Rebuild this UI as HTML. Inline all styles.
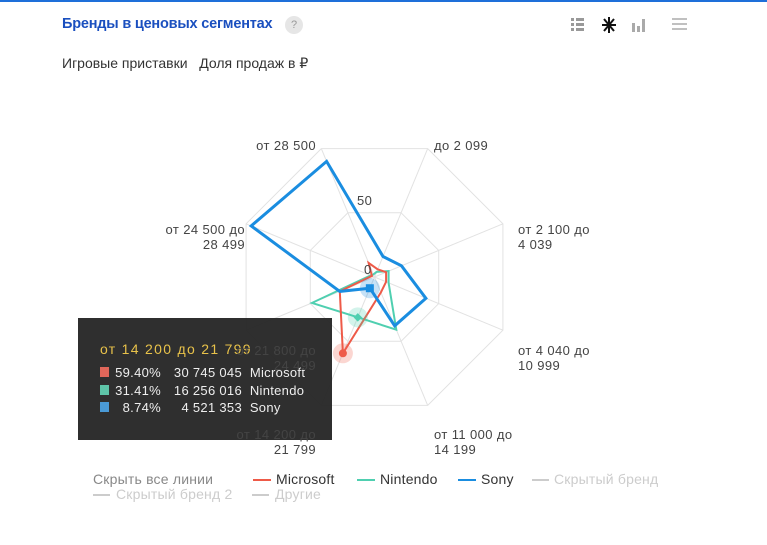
<!DOCTYPE html>
<html><head><meta charset="utf-8"><style>
body{margin:0;width:767px;height:545px;background:#fff;position:relative;overflow:hidden;font-family:"Liberation Sans","DejaVu Sans",sans-serif;}
.a{position:absolute;white-space:nowrap}
.lab{font-size:13px;color:#444;line-height:15px;letter-spacing:0.4px}
.r{text-align:right}
.leg{font-size:14px;line-height:15px;letter-spacing:0.2px}
.ln{position:absolute;height:2px}
</style></head><body>
<div class="a" style="left:0;top:0;width:767px;height:2px;background:#1e6fd9"></div>
<div class="a" style="left:62px;top:16px;font-size:14.5px;font-weight:bold;color:#1a4fbf;letter-spacing:-0.2px">Бренды в ценовых сегментах</div>
<div class="a" style="left:285px;top:16px;width:18px;height:18px;border-radius:9px;background:#e6e6e6;color:#999;font-size:11px;text-align:center;line-height:18px">?</div>
<svg class="a" style="left:565px;top:14px" width="130" height="22">
 <g fill="#999"><rect x="6" y="4" width="3" height="3"/><rect x="11" y="4" width="8" height="3"/><rect x="6" y="9" width="3" height="3"/><rect x="11" y="9" width="8" height="3"/><rect x="6" y="14" width="3" height="3"/><rect x="11" y="14" width="8" height="3"/></g>
 <g stroke="#111" stroke-width="2"><line x1="44" y1="3" x2="44" y2="19"/><line x1="37" y1="11" x2="51" y2="11"/><line x1="39" y1="5" x2="49" y2="17"/><line x1="49" y1="5" x2="39" y2="17"/></g>
 <g fill="#aaa"><rect x="67" y="9" width="3" height="9"/><rect x="72" y="12" width="3" height="6"/><rect x="77" y="5" width="3" height="13"/></g>
 <g stroke="#aaa" stroke-width="1.5"><line x1="107" y1="5" x2="122" y2="5"/><line x1="107" y1="10" x2="122" y2="10"/><line x1="107" y1="15" x2="122" y2="15"/></g>
</svg>
<div class="a" style="left:62px;top:55px;font-size:14px;color:#333">Игровые приставки&nbsp;&nbsp;&nbsp;Доля продаж в ₽</div>

<svg id="ch" class="a" style="left:0;top:0" width="767" height="545"></svg>

<div class="a" style="left:78px;top:318px;width:254px;height:122px;background:rgba(40,40,40,0.97)">
 <div class="a" style="left:22px;top:23px;font-size:14px;color:#e8c24a;letter-spacing:1.3px">от 14 200 до 21 799</div>
 <div class="a" style="left:22px;top:46px;font-size:13px;color:#eee;line-height:17.5px;letter-spacing:0.3px">
  <div><span style="display:inline-block;width:9px;height:10px;background:#e0675a;margin-right:4px"></span><span style="display:inline-block;width:48px;text-align:right">59.40%</span><span style="display:inline-block;width:81px;text-align:right">30 745 045</span>&nbsp;&nbsp;Microsoft</div>
  <div><span style="display:inline-block;width:9px;height:10px;background:#5ec4a8;margin-right:4px"></span><span style="display:inline-block;width:48px;text-align:right">31.41%</span><span style="display:inline-block;width:81px;text-align:right">16 256 016</span>&nbsp;&nbsp;Nintendo</div>
  <div><span style="display:inline-block;width:9px;height:10px;background:#4a9ad6;margin-right:4px"></span><span style="display:inline-block;width:48px;text-align:right">8.74%</span><span style="display:inline-block;width:81px;text-align:right">4 521 353</span>&nbsp;&nbsp;Sony</div>
 </div>
</div>

<div class="a lab r" style="right:451px;top:138px">от 28 500</div>
<div class="a lab" style="left:434px;top:138px">до 2 099</div>
<div class="a lab" style="left:518px;top:222px">от 2 100 до<br>4 039</div>
<div class="a lab" style="left:518px;top:343px">от 4 040 до<br>10 999</div>
<div class="a lab" style="left:434px;top:427px">от 11 000 до<br>14 199</div>
<div class="a lab r" style="right:451px;top:427px">от 14 200 до<br>21 799</div>
<div class="a lab r" style="right:451px;top:343px">от 21 800 до<br>24 499</div>
<div class="a lab r" style="right:522px;top:222px">от 24 500 до<br>28 499</div>
<div class="a lab" style="left:357px;top:193px">50</div>
<div class="a lab" style="left:364px;top:262px">0</div>

<div class="a leg" style="left:93px;top:472px;color:#888">Скрыть все линии</div>
<div class="ln" style="left:253px;top:479px;width:18px;background:#ee5a48"></div><div class="a leg" style="left:276px;top:472px;color:#333">Microsoft</div>
<div class="ln" style="left:357px;top:479px;width:18px;background:#4fcfb0"></div><div class="a leg" style="left:380px;top:472px;color:#333">Nintendo</div>
<div class="ln" style="left:458px;top:479px;width:18px;background:#1a8de0"></div><div class="a leg" style="left:481px;top:472px;color:#333">Sony</div>
<div class="ln" style="left:532px;top:479px;width:17px;background:#ccc"></div><div class="a leg" style="left:554px;top:472px;color:#ccc">Скрытый бренд</div>
<div class="ln" style="left:93px;top:494px;width:17px;background:#ccc"></div><div class="a leg" style="left:116px;top:487px;color:#ccc">Скрытый бренд 2</div>
<div class="ln" style="left:252px;top:494px;width:17px;background:#ccc"></div><div class="a leg" style="left:275px;top:487px;color:#ccc">Другие</div>

<script>
var cx=374.5,cy=277,R=139,ns="http://www.w3.org/2000/svg",s=document.getElementById('ch');
function pt(i,v){var t=(22.5+45*i)*Math.PI/180,r=R*v/100;return [cx+r*Math.sin(t),cy-r*Math.cos(t)];}
function el(n,a){var e=document.createElementNS(ns,n);for(var k in a)e.setAttribute(k,a[k]);s.appendChild(e);return e;}
function poly(vals,col,w){var p=[];for(var i=0;i<8;i++){var q=pt(i,vals[i]);p.push(q[0].toFixed(1)+','+q[1].toFixed(1));}el('polygon',{points:p.join(' '),fill:'none',stroke:col,'stroke-width':w,'stroke-linejoin':'miter'});}
poly([50,50,50,50,50,50,50,50],'#e2e2e2',1);poly([100,100,100,100,100,100,100,100],'#e2e2e2',1);
for(var i=0;i<8;i++){var q=pt(i,100);el('line',{x1:cx,y1:cy,x2:q[0],y2:q[1],stroke:'#e2e2e2','stroke-width':1});}
var N=[4,11,11,41,31.41,48.7,3,2], M=[6,9,9,12,59.4,27,2,11], S=[16,21,40,38,8.74,27,96,90];
poly(N,'#4fcfb0',2);poly(M,'#ee5a48',2);poly(S,'#1a8de0',3);
var a=pt(4,59.4),b=pt(4,31.41),c=pt(4,8.74);
el('circle',{cx:a[0],cy:a[1],r:10,fill:'rgba(238,90,72,0.25)'});el('circle',{cx:a[0],cy:a[1],r:4,fill:'#ee5a48'});
el('circle',{cx:b[0],cy:b[1],r:10,fill:'rgba(79,207,176,0.25)'});el('rect',{x:b[0]-3,y:b[1]-3,width:6,height:6,fill:'#4fcfb0',transform:'rotate(45 '+b[0]+' '+b[1]+')'});
el('circle',{cx:c[0],cy:c[1],r:10,fill:'rgba(26,141,224,0.25)'});el('rect',{x:c[0]-4,y:c[1]-4,width:8,height:8,fill:'#1a8de0'});
</script>
</body></html>
